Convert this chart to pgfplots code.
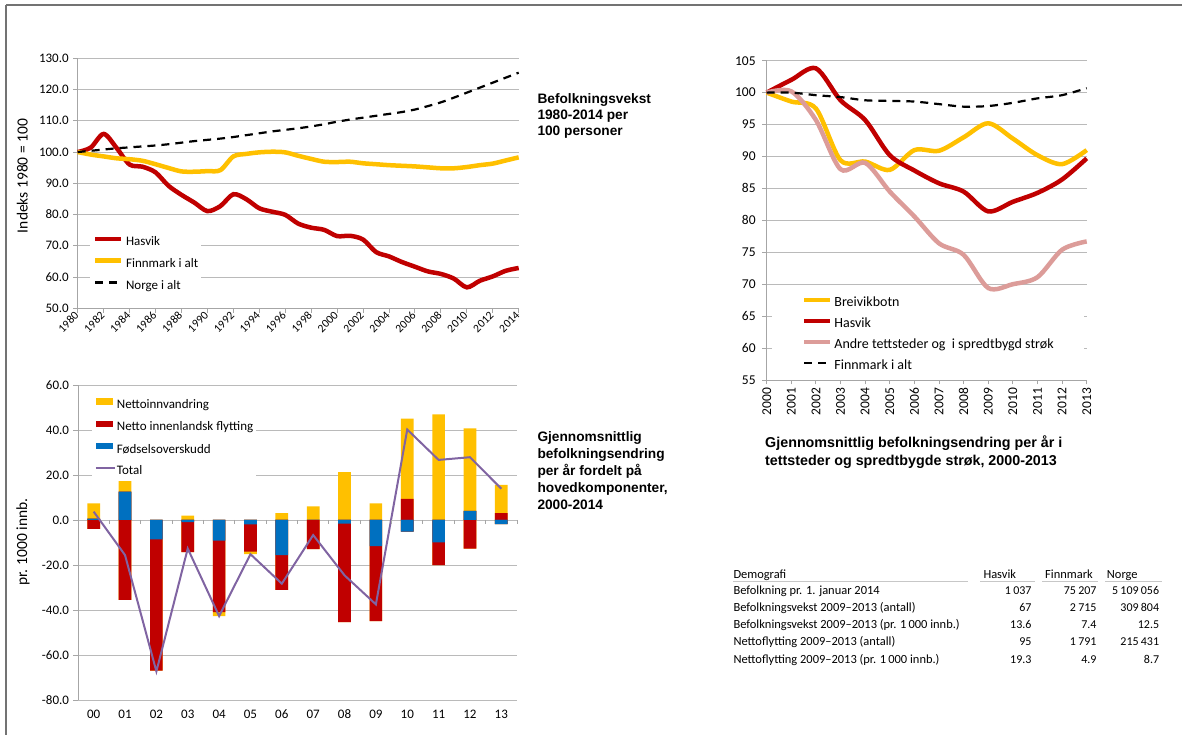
\documentclass[border=0pt]{standalone}
\usepackage{fontspec}
\setmainfont{Carlito}
\newfontfamily\arialfont{Liberation Sans}
\usepackage{pgfplots}
\usepackage{pgfplotstable}
\pgfplotsset{compat=1.18}
\definecolor{cred}{HTML}{C00000}
\definecolor{cyel}{HTML}{FFC000}
\definecolor{cblue}{HTML}{0070C0}
\definecolor{cpurp}{HTML}{8064A2}
\definecolor{cpink}{HTML}{DC9C99}
\definecolor{cgrid}{HTML}{BABABA}
\definecolor{caxis}{HTML}{A6A6A6}

\pgfplotstableread{
yr hasvik finn norge
1980 100 100 100
1981 101.4 99.2 100.4
1982 105.8 98.6 100.8
1983 101.3 98.0 101.2
1984 96.0 97.7 101.5
1985 95.3 97.2 101.8
1986 93.5 96.1 102.1
1987 89.2 94.9 102.5
1988 86.3 93.8 103.0
1989 83.8 93.7 103.5
1990 81.1 93.9 103.9
1991 82.7 94.2 104.3
1992 86.5 98.6 104.8
1993 84.9 99.4 105.4
1994 82.0 99.9 106.0
1995 80.9 100.1 106.6
1996 79.9 99.9 107.1
1997 77.1 98.8 107.6
1998 75.8 97.8 108.2
1999 75.1 96.9 108.9
2000 73.1 96.8 109.7
2001 73.2 96.9 110.4
2002 72.0 96.4 111.0
2003 68.0 96.1 111.6
2004 66.6 95.8 112.2
2005 64.8 95.6 112.8
2006 63.3 95.4 113.6
2007 61.8 95.1 114.7
2008 61.0 94.8 115.9
2009 59.5 94.8 117.4
2010 56.7 95.2 119.0
2011 58.8 95.8 120.6
2012 60.2 96.3 122.2
2013 62.0 97.3 123.8
2014 62.9 98.3 125.4
}\tabA

\pgfplotstableread{
x ypos rpos bpos yneg rneg bneg total
0 7.4 0.6 0.6 -4.0 -4.0 0 3.7
1 18.4 12.6 12.6 -35.5 -35.5 0 -15.6
2 0 0 0 -67.0 -67.0 -8.6 -67.3
3 1.9 0 0 -14.3 -14.3 -0.9 -12.7
4 0 0 0 -42.7 -41.0 -9.2 -42.7
5 0 0 0 -15.2 -14.1 -1.9 -15.2
6 3.0 0 0 -31.1 -31.1 -15.6 -28.3
7 6.0 0 0 -13.0 -13.0 0 -6.7
8 21.3 0 0 -45.4 -45.4 -1.6 -24.6
9 7.4 0 0 -45.0 -45.0 -11.6 -37.5
10 45.1 9.4 0 -5.2 -5.2 -5.2 40.2
11 46.9 0 0 -20.1 -20.1 -10.0 26.7
12 40.7 4.0 4.0 -12.7 -12.7 0 27.9
13 15.6 3.0 0 -1.8 -1.8 -1.8 13.9
}\tabB

\pgfplotstableread{
yr breivik hasvik andre finn
2000 100 100 100 100
2001 98.6 102.0 100.2 100.0
2002 97.5 103.8 95.7 99.6
2003 89.4 98.8 88.0 99.3
2004 89.2 95.7 89.0 98.8
2005 87.9 90.2 84.5 98.7
2006 91.0 87.8 80.6 98.6
2007 90.9 85.8 76.4 98.2
2008 93.0 84.5 74.6 97.8
2009 95.2 81.4 69.4 97.9
2010 92.8 82.9 70.0 98.4
2011 90.2 84.3 71.1 99.1
2012 88.8 86.4 75.4 99.6
2013 91.0 89.7 76.7 100.7
}\tabC

\pgfplotsset{
  excel/.style={
    scale only axis, clip=false,
    axis x line*=bottom, axis y line*=left,
    axis line style={caxis, line width=0.9pt},
    ymajorgrids, grid style={cgrid, line width=0.9pt},
    tick style={caxis, line width=0.9pt}, tick align=outside,
    major tick length=4.5pt, minor tick length=4.5pt,
    ticklabel style={font=\fontsize{13}{15}\selectfont, text=black},
    legend cell align=left,
  },
  linelegend/.style={legend image code/.code={\draw[##1] (0pt,3.5pt) -- (26pt,3.5pt);}},
  shortlegend/.style={legend image code/.code={\draw[##1] (0pt,3.5pt) -- (19pt,3.5pt);}},
  barlegend/.style={legend image code/.code={\fill[#1] (0pt,0.5pt) rectangle (17.2pt,7pt);}},
}

\newcommand{\ttl}{\arialfont\bfseries\fontsize{13.7}{16}\selectfont}
\newcommand{\nb}[1]{{\fontsize{12}{14}\selectfont #1}}
\newcommand{\ts}{\kern2.2pt\relax}

\begin{document}
\begin{tikzpicture}
\useasboundingbox (0pt,0pt) rectangle (1182pt,735pt);
% frame
\draw[black!55, line width=1.2pt] (6pt,730pt) -- (1182pt,730pt);
\draw[black!55, line width=1.2pt] (6pt,730pt) -- (6pt,0pt);

% ---------------- Panel 1 ----------------
\begin{axis}[excel, at={(77.7pt,426.7pt)}, anchor=south west, width=441pt, height=250pt,
  xmin=1980, xmax=2014, ymin=50, ymax=130,
  xtick={1980,1982,...,2014},
  xticklabels={1980,1982,1984,1986,1988,1990,1992,1994,1996,1998,2000,2002,2004,2006,2008,2010,2012,2014},
  minor x tick num=1,
  ytick={50,60,...,130},
  yticklabels={50.0,60.0,70.0,80.0,90.0,100.0,110.0,120.0,130.0},
  yticklabel style={xshift=-1pt},
  xticklabel style={rotate=45, anchor=east, font=\fontsize{11.6}{13}\selectfont, xshift=2pt},
  legend style={at={(0.0279,0.3016)}, anchor=north west, draw=none, fill=white,
    inner xsep=3pt, inner ysep=3pt, font=\fontsize{13}{15}\selectfont,
    row sep=9.3pt, column sep=2.4pt,
    nodes={inner sep=0pt, text height=9.5pt, text depth=3pt}},
]
\addplot[cred, line width=4.5pt, smooth, tension=0.5, linelegend] table[x=yr,y=hasvik]{\tabA};
\addlegendentry{Hasvik}
\addplot[cyel, line width=4.5pt, smooth, tension=0.5, linelegend] table[x=yr,y=finn]{\tabA};
\addlegendentry{Finnmark i alt}
\addplot[black, line width=2.2pt, dash pattern=on 8pt off 6pt, smooth, linelegend] table[x=yr,y=norge]{\tabA};
\addlegendentry{Norge i alt}
\end{axis}
\node[rotate=90, font=\fontsize{15.5}{17}\selectfont] at (22.4pt,559pt) {Indeks 1980 = 100};
\node[anchor=base west, inner sep=0pt] at (537.3pt,631.5pt) {\ttl Befolkningsvekst};
\node[anchor=base west, inner sep=0pt] at (537.3pt,615.3pt) {\ttl 1980-2014 per};
\node[anchor=base west, inner sep=0pt] at (537.3pt,599.1pt) {\ttl 100 personer};

% ---------------- Panel 2 ----------------
\begin{axis}[excel, at={(78pt,35pt)}, anchor=south west, width=439pt, height=315pt,
  xmin=-0.5, xmax=13.5, ymin=-80, ymax=60,
  x axis line style={draw=none},
  xtick={0,...,13}, xticklabels={00,01,02,03,04,05,06,07,08,09,10,11,12,13},
  xtick style={draw=none},
  xticklabel style={yshift=-2pt},
  ytick={-80,-60,...,60},
  yticklabels={-80.0,-60.0,-40.0,-20.0,0.0,20.0,40.0,60.0},
  yticklabel style={xshift=-1pt},
  legend style={at={(0.0312,0.968)}, anchor=north west, draw=none, fill=white,
    inner xsep=3pt, inner ysep=3pt, font=\fontsize{13}{15}\selectfont,
    row sep=9.1pt, column sep=1pt,
    nodes={inner sep=0pt, text height=9.5pt, text depth=3pt}},
]
\addplot[ybar, bar width=12.7pt, bar shift=0pt, fill=cyel, draw=none, barlegend=cyel] table[x=x,y=ypos]{\tabB};
\addlegendentry{Nettoinnvandring}
\addplot[ybar, bar width=12.7pt, bar shift=0pt, fill=cyel, draw=none, forget plot] table[x=x,y=yneg]{\tabB};
\addplot[ybar, bar width=12.7pt, bar shift=0pt, fill=cred, draw=none, barlegend=cred] table[x=x,y=rpos]{\tabB};
\addlegendentry{Netto innenlandsk flytting}
\addplot[ybar, bar width=12.7pt, bar shift=0pt, fill=cred, draw=none, forget plot] table[x=x,y=rneg]{\tabB};
\addplot[ybar, bar width=12.7pt, bar shift=0pt, fill=cblue, draw=none, barlegend=cblue] table[x=x,y=bpos]{\tabB};
\addlegendentry{Fødselsoverskudd}
\addplot[ybar, bar width=12.7pt, bar shift=0pt, fill=cblue, draw=none, forget plot] table[x=x,y=bneg]{\tabB};
\addplot[cpurp, line width=2pt, sharp plot, shortlegend] table[x=x,y=total]{\tabB};
\addlegendentry{Total}
\pgfplotsinvokeforeach{-0.5,0.5,...,13.5}{\draw[caxis, line width=0.9pt] (axis cs:#1,0) -- ++(0pt,-4.5pt);}
\end{axis}
\node[rotate=90, font=\fontsize{15.5}{17}\selectfont] at (23pt,193pt) {pr. 1000 innb.};
\node[anchor=base west, inner sep=0pt] at (537.3pt,293pt) {\ttl Gjennomsnittlig};
\node[anchor=base west, inner sep=0pt] at (537.3pt,276pt) {\ttl befolkningsendring};
\node[anchor=base west, inner sep=0pt] at (537.3pt,259pt) {\ttl per år fordelt på};
\node[anchor=base west, inner sep=0pt] at (537.3pt,242pt) {\ttl hovedkomponenter,};
\node[anchor=base west, inner sep=0pt] at (537.3pt,225pt) {\ttl 2000-2014};

% ---------------- Panel 3 ----------------
\begin{axis}[excel, at={(766.7pt,355pt)}, anchor=south west, width=320pt, height=319.3pt,
  xmin=2000, xmax=2013, ymin=55, ymax=105,
  xtick={2000,...,2013},
  xticklabels={2000,2001,2002,2003,2004,2005,2006,2007,2008,2009,2010,2011,2012,2013},
  xticklabel style={rotate=90, anchor=east, font=\fontsize{13.5}{15}\selectfont},
  ytick={55,60,...,105},
  yticklabels={55,60,65,70,75,80,85,90,95,100,105},
  yticklabel style={font=\fontsize{13.5}{15}\selectfont, xshift=-3pt},
  legend style={at={(0.0156,0.270)}, anchor=north west, draw=none, fill=white,
    inner xsep=30pt, inner ysep=3pt, font=\fontsize{14}{16}\selectfont,
    row sep=7.4pt, column sep=2pt,
    nodes={inner sep=0pt, text height=10pt, text depth=3.5pt}},
]
\addplot[cyel, line width=4.5pt, smooth, tension=0.5, linelegend] table[x=yr,y=breivik]{\tabC};
\addlegendentry{Breivikbotn}
\addplot[cred, line width=4.5pt, smooth, tension=0.5, linelegend] table[x=yr,y=hasvik]{\tabC};
\addlegendentry{Hasvik}
\addplot[cpink, line width=4.5pt, smooth, tension=0.5, linelegend] table[x=yr,y=andre]{\tabC};
\addlegendentry{Andre tettsteder og\ \ i spredtbygd strøk}
\addplot[black, line width=2.2pt, dash pattern=on 8pt off 6pt, smooth, linelegend] table[x=yr,y=finn]{\tabC};
\addlegendentry{Finnmark i alt}
\end{axis}
\node[anchor=base west, inner sep=0pt] at (765pt,287.5pt) {\arialfont\bfseries\fontsize{14.3}{16}\selectfont Gjennomsnittlig befolkningsendring per år i};
\node[anchor=base west, inner sep=0pt] at (765pt,269.5pt) {\arialfont\bfseries\fontsize{14.3}{16}\selectfont tettsteder og spredtbygde strøk, 2000-2013};

% ---------------- Table ----------------
\begin{scope}[every node/.style={inner sep=0pt, font=\fontsize{12.45}{14}\selectfont}]
\node[anchor=base west] at (733.3pt,156.5pt) {Demografi};
\node[anchor=base west] at (983.3pt,156.5pt) {Hasvik};
\node[anchor=base west] at (1045pt,156.5pt) {Finnmark};
\node[anchor=base west] at (1106.7pt,156.5pt) {Norge};
\draw[black!22, line width=1pt] (733.3pt,153.3pt) -- (968pt,153.3pt);
\draw[black!22, line width=1pt] (980pt,153.3pt) -- (1035pt,153.3pt);
\draw[black!22, line width=1pt] (1042pt,153.3pt) -- (1098pt,153.3pt);
\draw[black!22, line width=1pt] (1105pt,153.3pt) -- (1162pt,153.3pt);
\node[anchor=base west] at (733.3pt,140.8pt) {Befolkning pr. 1. januar 2014};
\node[anchor=base east] at (1031.7pt,140.8pt) {\nb{1\ts 037}};
\node[anchor=base east] at (1096.7pt,140.8pt) {\nb{75\ts 207}};
\node[anchor=base east] at (1159.3pt,140.8pt) {\nb{5\ts 109\ts 056}};
\node[anchor=base west] at (733.3pt,123.5pt) {Befolkningsvekst 2009–2013 (antall)};
\node[anchor=base east] at (1031.7pt,123.5pt) {\nb{67}};
\node[anchor=base east] at (1096.7pt,123.5pt) {\nb{2\ts 715}};
\node[anchor=base east] at (1159.3pt,123.5pt) {\nb{309\ts 804}};
\node[anchor=base west] at (733.3pt,106.3pt) {Befolkningsvekst 2009–2013 (pr. 1\,000 innb.)};
\node[anchor=base east] at (1031.7pt,106.3pt) {\nb{13.6}};
\node[anchor=base east] at (1096.7pt,106.3pt) {\nb{7.4}};
\node[anchor=base east] at (1159.3pt,106.3pt) {\nb{12.5}};
\node[anchor=base west] at (733.3pt,89.1pt) {Nettoflytting 2009–2013 (antall)};
\node[anchor=base east] at (1031.7pt,89.1pt) {\nb{95}};
\node[anchor=base east] at (1096.7pt,89.1pt) {\nb{1\ts 791}};
\node[anchor=base east] at (1159.3pt,89.1pt) {\nb{215\ts 431}};
\node[anchor=base west] at (733.3pt,71.9pt) {Nettoflytting 2009–2013 (pr. 1\,000 innb.)};
\node[anchor=base east] at (1031.7pt,71.9pt) {\nb{19.3}};
\node[anchor=base east] at (1096.7pt,71.9pt) {\nb{4.9}};
\node[anchor=base east] at (1159.3pt,71.9pt) {\nb{8.7}};
\end{scope}
\end{tikzpicture}
\end{document}
